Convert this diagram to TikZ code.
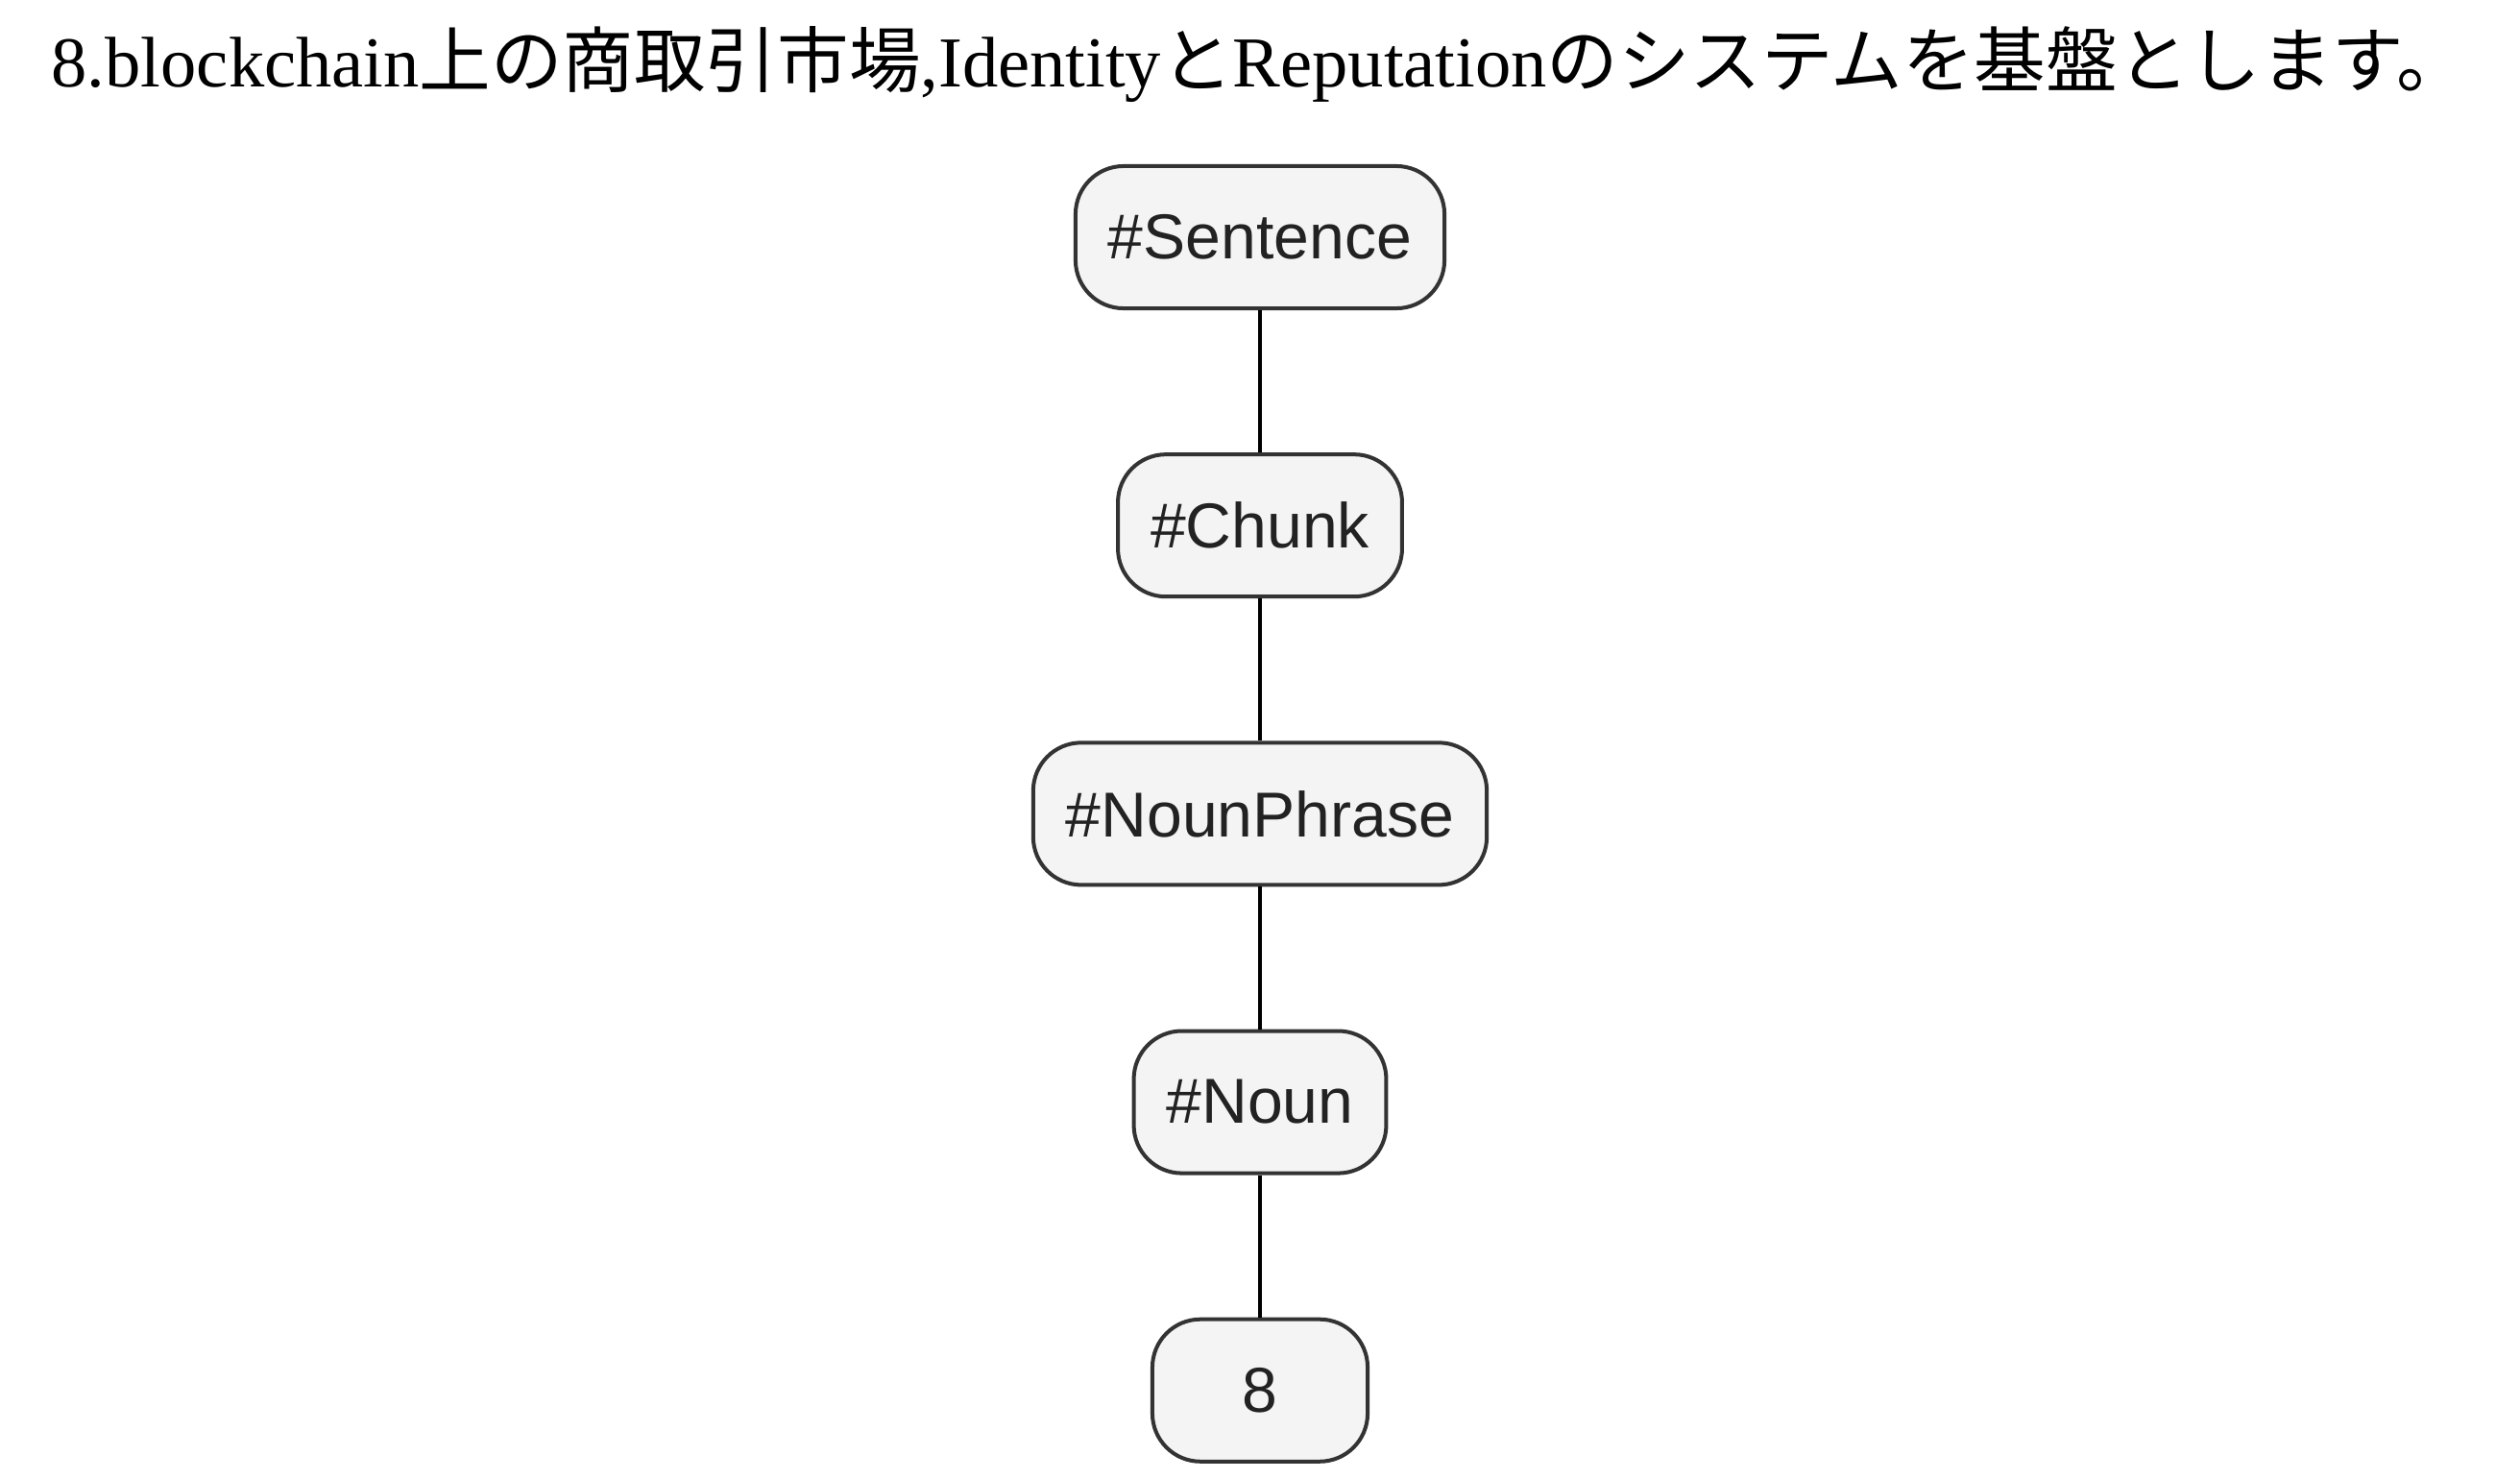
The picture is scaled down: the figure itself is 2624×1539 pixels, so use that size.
\documentclass[tikz,border=0pt]{standalone}
\usepackage{fontspec}
\setmainfont{Liberation Serif}
\newfontfamily\cjk{Noto Sans CJK JP}
\newfontfamily\tagfont{Liberation Sans}
\usetikzlibrary{positioning}
\definecolor{tagfill}{HTML}{F4F4F4}
\definecolor{tagline}{HTML}{333333}
\definecolor{tagtext}{HTML}{222222}
\tikzset{
  tag/.style={draw=tagline, fill=tagfill, text=tagtext, line width=1.14pt,
    rounded corners=0.5cm, minimum width=2.24cm, minimum height=1.48cm,
    inner xsep=0.34cm, inner ysep=0pt, font=\tagfont\fontsize{18.8}{22}\selectfont},
  link/.style={line width=1.14pt, black}
}
\begin{document}
\begin{tikzpicture}[x=0.01cm, y=-0.01cm, node distance=1.48cm]
  \useasboundingbox (0,0) rectangle (2624,1539);
  % title line
  \node[anchor=base, font=\fontsize{21.2}{25}\selectfont] (title) at (1312,90)
    {8.blockchain{\cjk 上の商取引市場},Identity{\cjk と}Reputation{\cjk のシステムを基盤とします。}};
  % parse tree
  \node[tag] (sentence) at (1312,247) {\#Sentence};
  \node[tag, below=of sentence] (chunk) {\#Chunk};
  \node[tag, below=of chunk] (nounphrase) {\#NounPhrase};
  \node[tag, below=of nounphrase] (noun) {\#Noun};
  \node[tag, below=of noun] (word) {8};
  \foreach \a/\b in {sentence/chunk, chunk/nounphrase, nounphrase/noun, noun/word}
    \draw[link] (\a) -- (\b);
\end{tikzpicture}
\end{document}
